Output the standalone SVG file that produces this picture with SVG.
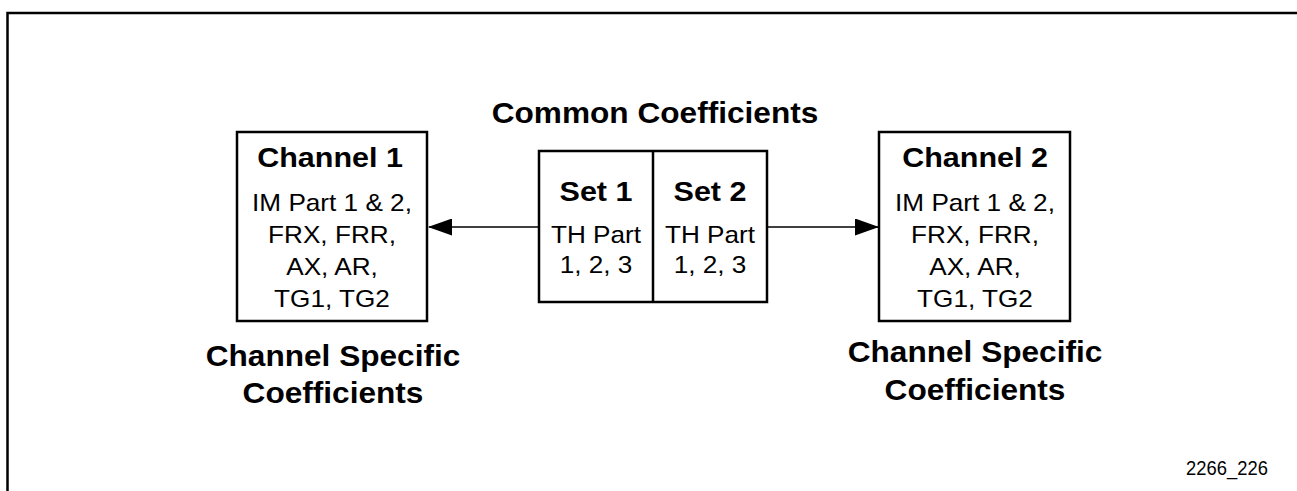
<svg xmlns="http://www.w3.org/2000/svg" width="1297" height="491" viewBox="0 0 1297 491">
<style>
.box{fill:#fff;stroke:#000;stroke-width:2.5}
.ln{stroke:#000;stroke-width:1.6;fill:none}
.b{font-family:"Liberation Sans",Arial,sans-serif;font-weight:bold;text-anchor:middle;fill:#000}
.r{font-family:"Liberation Sans",Arial,sans-serif;text-anchor:middle;fill:#000;font-size:24px}
.t{font-size:28px}
.c{font-size:29px}
</style>
<defs>
<marker id="ah" markerWidth="24" markerHeight="17" refX="23" refY="8.5" orient="auto" markerUnits="userSpaceOnUse">
<path d="M0,0 L24,8.5 L0,17 Z" fill="#000"/>
</marker>
</defs>
<rect width="1297" height="491" fill="#fff"/>
<path d="M1297,13 H7.5 V491" fill="none" stroke="#000" stroke-width="2.5"/>
<g id="connectors">
<line class="ln" x1="539" y1="227" x2="429" y2="227" marker-end="url(#ah)"/>
<line class="ln" x1="767" y1="227" x2="878" y2="227" marker-end="url(#ah)"/>
</g>
<g id="common">
<text class="b c" transform="translate(655 123) scale(1.09 1)">Common Coefficients</text>
</g>
<g id="sets">
<rect class="box" x="539" y="151" width="228" height="151"/>
<line x1="653" y1="151" x2="653" y2="302" stroke="#000" stroke-width="2.5"/>
<text class="b t" transform="translate(596 200.7) scale(1.09 1)">Set 1</text>
<text class="r" transform="translate(596 242.7) scale(1.09 1)">TH Part</text>
<text class="r" transform="translate(596 273.3) scale(1.09 1)">1, 2, 3</text>
<text class="b t" transform="translate(710 200.7) scale(1.09 1)">Set 2</text>
<text class="r" transform="translate(710 242.7) scale(1.09 1)">TH Part</text>
<text class="r" transform="translate(710 273.3) scale(1.09 1)">1, 2, 3</text>
</g>
<g id="channel1">
<rect class="box" x="237" y="132" width="190" height="189"/>
<text class="b t" transform="translate(330 166.7) scale(1.09 1)">Channel 1</text>
<text class="r" transform="translate(332 211) scale(1.09 1)">IM Part 1 &amp; 2,</text>
<text class="r" transform="translate(332 243) scale(1.09 1)">FRX, FRR,</text>
<text class="r" transform="translate(332 275) scale(1.09 1)">AX, AR,</text>
<text class="r" transform="translate(332 307) scale(1.09 1)">TG1, TG2</text>
</g>
<g id="channel2">
<rect class="box" x="879" y="132" width="191" height="189"/>
<text class="b t" transform="translate(975 166.7) scale(1.09 1)">Channel 2</text>
<text class="r" transform="translate(975 211) scale(1.09 1)">IM Part 1 &amp; 2,</text>
<text class="r" transform="translate(975 243) scale(1.09 1)">FRX, FRR,</text>
<text class="r" transform="translate(975 275) scale(1.09 1)">AX, AR,</text>
<text class="r" transform="translate(975 307) scale(1.09 1)">TG1, TG2</text>
</g>
<g id="caption1">
<text class="b c" transform="translate(333 366) scale(1.09 1)">Channel Specific</text>
<text class="b c" transform="translate(333 403) scale(1.09 1)">Coefficients</text>
</g>
<g id="caption2">
<text class="b c" transform="translate(975 362) scale(1.09 1)">Channel Specific</text>
<text class="b c" transform="translate(975 400) scale(1.09 1)">Coefficients</text>
</g>
<g id="figid">
<text class="r" style="font-size:20px" transform="translate(1227 475) scale(0.92 1)">2266_226</text>
</g>
</svg>
